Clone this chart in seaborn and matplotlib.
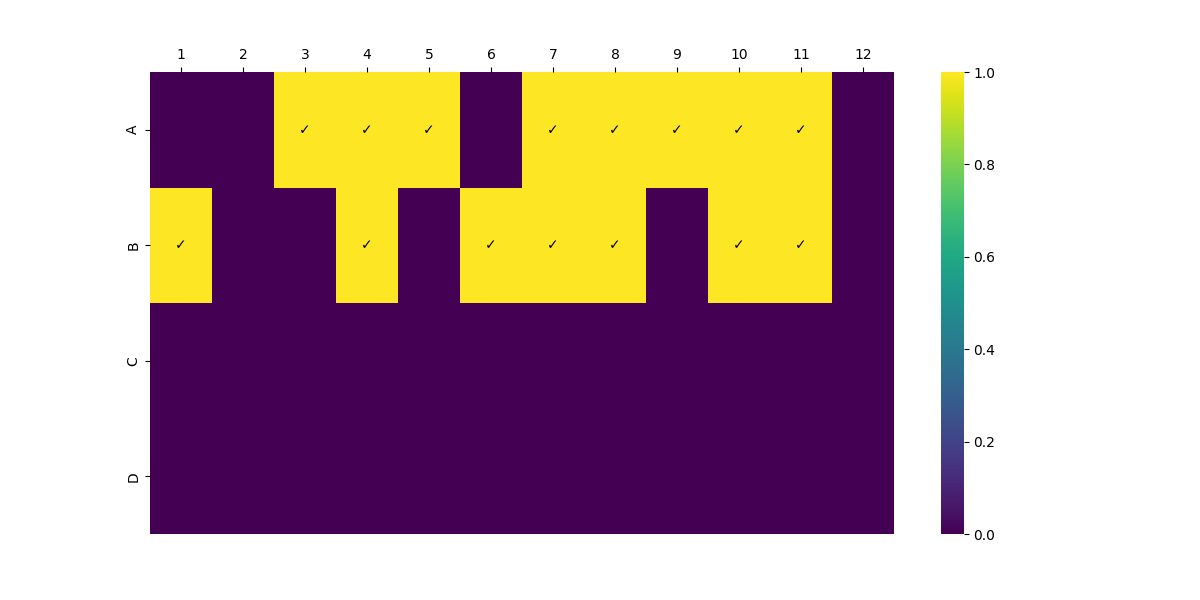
import numpy as np
import pandas as pd
import matplotlib
matplotlib.use("Agg")
import matplotlib.pyplot as plt
import seaborn as sns

rows = ["A", "B", "C", "D"]
cols = [str(i) for i in range(1, 13)]
row_a = [0, 0, 1, 1, 1, 0, 1, 1, 1, 1, 1, 0]
row_b = [1, 0, 0, 1, 0, 1, 1, 1, 0, 1, 1, 0]
row_c = [0] * 12
row_d = [0] * 12

data = pd.DataFrame([row_a, row_b, row_c, row_d], index=rows, columns=cols)
annot = data.map(lambda v: "\u2713" if v == 1 else "")

fig, ax = plt.subplots(figsize=(12, 6), dpi=100)
sns.heatmap(data, ax=ax, cmap="viridis", annot=annot, fmt="",
            annot_kws={"color": "black", "fontsize": 10}, cbar=True)
ax.xaxis.tick_top()
ax.xaxis.set_label_position("top")
ax.set_xlabel("")
ax.set_ylabel("")
fig.savefig("out.png", dpi=100)
